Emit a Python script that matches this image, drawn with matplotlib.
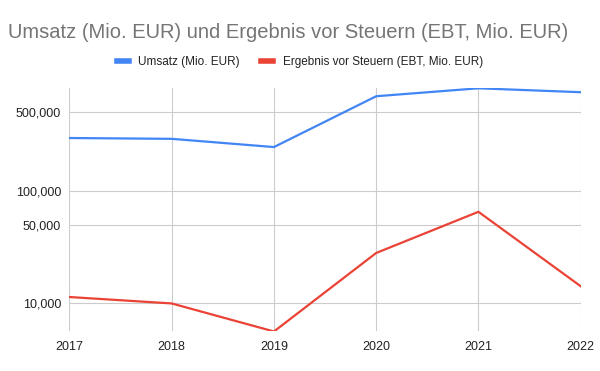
import matplotlib
matplotlib.use('Agg')
import matplotlib.pyplot as plt
from matplotlib.ticker import FixedLocator, FuncFormatter, NullLocator

plt.rcParams['font.family'] = ['Liberation Sans', 'DejaVu Sans']

# Data (Mio. EUR)
years = [2017, 2018, 2019, 2020, 2021, 2022]
umsatz = [295000, 290000, 245000, 695000, 818000, 755000]
ebt = [11300, 9900, 5570, 27900, 64900, 14100]
y_ticks = [10000, 50000, 100000, 500000]

fig = plt.figure(figsize=(6, 3.71), dpi=100)
ax = fig.add_axes([0.1158, 0.1065, 0.852, 0.6555])

ax.plot(years, umsatz, color='#4285F4', linewidth=1.6, label='Umsatz (Mio. EUR)')
ax.plot(years, ebt, color='#EA4335', linewidth=1.6, label='Ergebnis vor Steuern (EBT, Mio. EUR)')

ax.set_yscale('log')
ax.set_ylim(min(ebt), max(umsatz))
ax.set_xlim(years[0], years[-1])
ax.yaxis.set_major_locator(FixedLocator(y_ticks))
ax.yaxis.set_minor_locator(NullLocator())
ax.yaxis.set_major_formatter(FuncFormatter(lambda v, p: f'{int(v):,}'))
ax.set_xticks(years)

ax.grid(True, color='#cccccc', linewidth=0.8)
ax.set_axisbelow(True)
for s in ax.spines.values():
    s.set_visible(False)
ax.tick_params(length=0, labelsize=9, colors='#222222', pad=6)
ax.tick_params(axis='x', pad=7)

fig.text(0.013, 0.912, 'Umsatz (Mio. EUR) und Ergebnis vor Steuern (EBT, Mio. EUR)',
         fontsize=14.5, color='#757575', va='center', ha='left')

fig.legend(loc='center', bbox_to_anchor=(0.5, 0.833), ncol=2, frameon=False,
           fontsize=8.5, handlelength=1.0, handletextpad=0.8, columnspacing=1.8,
           labelcolor='#222222')
for line in fig.legends[0].get_lines():
    line.set_linewidth(4)

fig.savefig('out.png', dpi=100)
